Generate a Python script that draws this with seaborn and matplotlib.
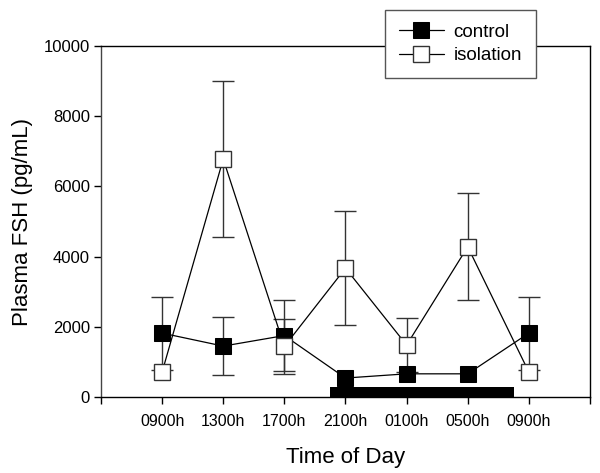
import matplotlib
matplotlib.use("Agg")
import matplotlib.pyplot as plt
import seaborn as sns
import pandas as pd
import numpy as np

times = ["0900h", "1300h", "1700h", "2100h", "0100h", "0500h", "0900h"]
control = [1820, 1450, 1750, 540, 660, 660, 1820]
control_err = [1040, 820, 1010, 0, 0, 0, 1040]
isolation = [710, 6780, 1440, 3670, 1480, 4280, 710]
isolation_err = [0, 2220, 780, 1630, 770, 1520, 0]
dark_start, dark_end, dark_height = 2.75, 5.75, 290

sns.set_theme(style="white")
plt.rcParams["font.family"] = ["Liberation Sans", "DejaVu Sans"]
plt.rcParams["text.color"] = "black"
plt.rcParams["xtick.color"] = "black"
plt.rcParams["ytick.color"] = "black"
plt.rcParams["axes.labelcolor"] = "black"

fig = plt.figure(figsize=(6, 4.73), dpi=100)
ax = fig.add_axes([0.1683, 0.1607, 0.815, 0.742])

pos = np.arange(len(times))
df = pd.DataFrame({
    "pos": np.concatenate([pos, pos]),
    "value": control + isolation,
    "group": ["control"] * len(pos) + ["isolation"] * len(pos),
})

for vals, errs in [(control, control_err), (isolation, isolation_err)]:
    v = np.array(vals, dtype=float)
    e = np.array(errs, dtype=float)
    m = e > 0
    ax.errorbar(pos[m], v[m], yerr=e[m], fmt="none", ecolor="#333333",
                elinewidth=1.0, capsize=8, capthick=1.0, zorder=2)

sns.lineplot(data=df[df.group == "control"], x="pos", y="value", ax=ax,
             color="black", linewidth=0.9, marker="s", markersize=11,
             markerfacecolor="black", markeredgecolor="black",
             label="control", zorder=4)
sns.lineplot(data=df[df.group == "isolation"], x="pos", y="value", ax=ax,
             color="black", linewidth=0.9, marker="s", markersize=11,
             markerfacecolor="white", markeredgecolor="#333333",
             markeredgewidth=1.0, label="isolation", zorder=5)

ax.fill_between([dark_start, dark_end], 0, dark_height, color="black",
                linewidth=0, zorder=6)

ax.set_xlim(-1, 7)
ax.set_ylim(0, 10000)
ax.set_xticks(np.arange(-1, 8))
ax.set_xticklabels([""] + times + [""], fontsize=11.5)
ax.set_yticks(np.arange(0, 10001, 2000))
ax.set_yticklabels([str(v) for v in range(0, 10001, 2000)], fontsize=12)
ax.tick_params(axis="both", direction="out", length=5, width=1, color="black",
               bottom=True, left=True, pad=3)
ax.tick_params(axis="x", pad=7)
for s in ax.spines.values():
    s.set_color("black")
    s.set_linewidth(1)
ax.spines["left"].set_color("#444444")

ax.set_xlabel("Time of Day", fontsize=16, labelpad=13)
ax.set_ylabel("Plasma FSH (pg/mL)", fontsize=16, labelpad=8)

leg = ax.legend(loc="center", bbox_to_anchor=(0.735, 1.006), frameon=True,
                fontsize=13.5, handlelength=2.4, borderpad=0.72,
                labelspacing=0.33, handletextpad=0.53, fancybox=False,
                borderaxespad=0)
leg.get_frame().set_edgecolor("#555555")
leg.get_frame().set_linewidth(1)
leg.get_frame().set_alpha(1)
leg.set_zorder(10)

fig.savefig("out.png", dpi=100)
